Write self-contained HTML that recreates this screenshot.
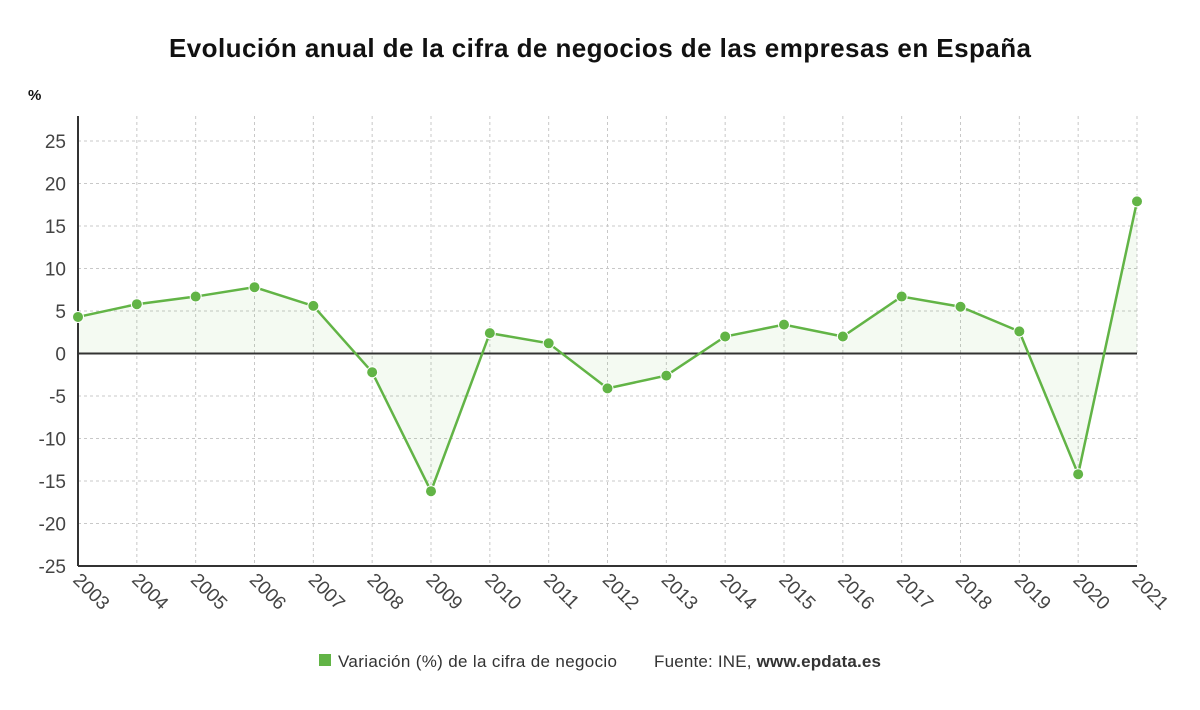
<!DOCTYPE html>
<html><head><meta charset="utf-8"><style>
body{margin:0;background:#fff;font-family:"Liberation Sans",sans-serif;}
</style></head><body>
<svg width="1200" height="705" xmlns="http://www.w3.org/2000/svg">
<text x="600" y="57" text-anchor="middle" font-size="26" font-weight="bold" fill="#111" textLength="862">Evolución anual de la cifra de negocios de las empresas en España</text>
<text x="28" y="100" font-size="15" font-weight="bold" fill="#111">%</text>
<g id="grid"></g><g id="area"></g><g id="axes"></g><g id="series"></g>
<g>
<rect x="319" y="654" width="12" height="12" fill="#62b446"/>
<text x="338" y="667" font-size="17" fill="#333" textLength="279">Variación (%) de la cifra de negocio</text>
<text x="654" y="667" font-size="17" fill="#333" textLength="227">Fuente: INE, <tspan font-weight="bold">www.epdata.es</tspan></text>
</g>
</svg>
<script>
const years=["2003","2004","2005","2006","2007","2008","2009","2010","2011","2012","2013","2014","2015","2016","2017","2018","2019","2020","2021"];
const values=[4.3,5.8,6.7,7.8,5.6,-2.2,-16.2,2.4,1.2,-4.1,-2.6,2.0,3.4,2.0,6.7,5.5,2.6,-14.2,17.9];
const yTicks=[25,20,15,10,5,0,-5,-10,-15,-20,-25];
const NS="http://www.w3.org/2000/svg";
const x0=78,x1=1137,yTop=141,yBot=566,vMax=25,vMin=-25;
const X=i=>x0+(x1-x0)*i/(years.length-1);
const Y=v=>yTop+(vMax-v)/(vMax-vMin)*(yBot-yTop);
function mk(tag,attrs,parent){const e=document.createElementNS(NS,tag);for(const k in attrs)e.setAttribute(k,attrs[k]);document.getElementById(parent).appendChild(e);return e;}
yTicks.forEach(t=>{
 const g=mk('line',{x1:x0,x2:x1,y1:Y(t),y2:Y(t),stroke:'#c8c8c8','stroke-dasharray':'3,3'},'grid');
 
 
 const l=mk('text',{x:66,y:Y(t)+7,'text-anchor':'end','font-size':19,fill:'#444'},'axes');l.textContent=t;
 
 
});
years.forEach((yr,i)=>{
 const g=mk('line',{x1:X(i),x2:X(i),y1:116,y2:yBot,stroke:'#c8c8c8','stroke-dasharray':'3,3'},'grid');
 
 
 const l=mk('text',{x:X(i)-6,y:yBot+15,'font-size':19,fill:'#444',transform:`rotate(45 ${X(i)-6} ${yBot+15})`},'axes');l.textContent=yr;
 
 
});
let a=mk('line',{x1:x0,x2:x0,y1:116,y2:yBot,stroke:'#333','stroke-width':2},'axes');

a=mk('line',{x1:x0,x2:x1,y1:yBot,y2:yBot,stroke:'#333','stroke-width':2},'axes');

a=mk('line',{x1:x0,x2:x1,y1:Y(0),y2:Y(0),stroke:'#333','stroke-width':2},'axes');

const pts=values.map((v,i)=>X(i)+','+Y(v)).join(' ');
const ar=mk('polygon',{points:X(0)+','+Y(0)+' '+pts+' '+X(values.length-1)+','+Y(0),fill:'#62b446','fill-opacity':0.07},'area');


const ln=mk('polyline',{points:pts,fill:'none',stroke:'#62b446','stroke-width':2.5},'series');


values.forEach((v,i)=>{
 const c=mk('circle',{cx:X(i),cy:Y(v),r:5.5,fill:'#62b446',stroke:'#fff','stroke-width':1},'series');
 
 
});
</script>
</body></html>
